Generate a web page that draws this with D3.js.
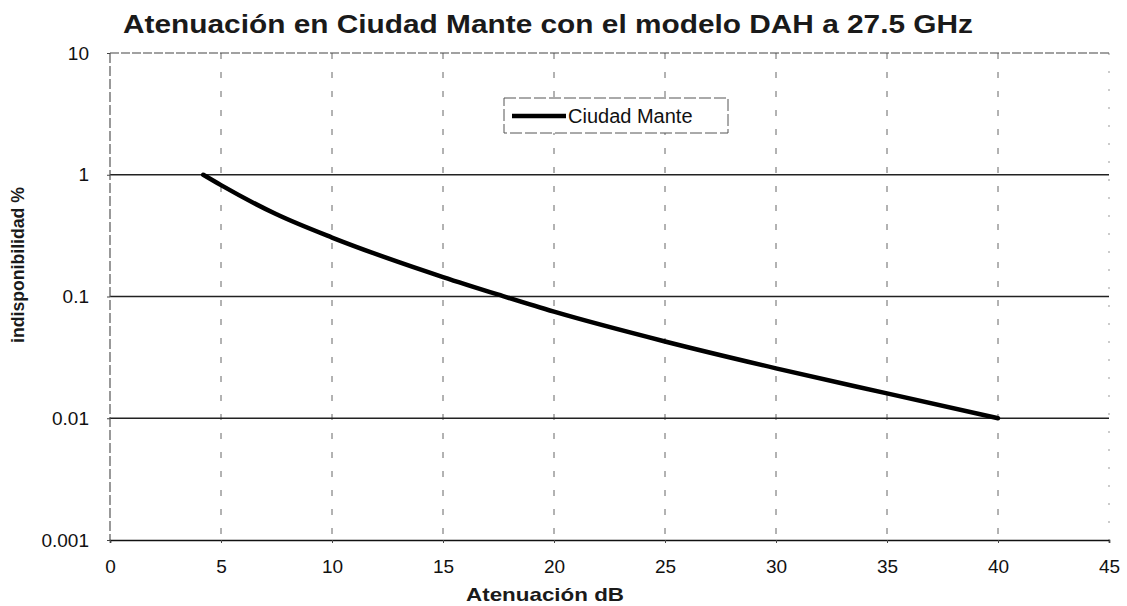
<!DOCTYPE html>
<html>
<head>
<meta charset="utf-8">
<script src="https://cdn.jsdelivr.net/npm/d3@7"></script>
<style>
  body { margin: 0; background: #fff; }
  svg { display: block; font-family: "Liberation Sans", Arial, sans-serif; }
</style>
</head>
<body>
<svg id="chart" width="1127" height="606"></svg>
<script>
// data
const attenDb   = [4.2, 5, 7.5, 10, 12.5, 15, 17.5, 20, 25, 30, 35, 40];
const unavail   = [1, 0.822, 0.473, 0.305, 0.2065, 0.1445, 0.1035, 0.075, 0.0427, 0.0257, 0.016, 0.01];
const xTicks    = [0, 5, 10, 15, 20, 25, 30, 35, 40, 45];
const yTicks    = [0.001, 0.01, 0.1, 1, 10];
const yLabels   = ["0.001", "0.01", "0.1", "1", "10"];
const seriesName = "Ciudad Mante";

const svg = d3.select("#chart");
const margin = { top: 53, left: 110, right: 18, bottom: 66 };
const width = 1127 - margin.left - margin.right,
      height = 606 - margin.top - margin.bottom;

const g = svg.append("g").attr("transform", `translate(${margin.left},${margin.top})`);

const x = d3.scaleLinear().domain([0, 45]).range([0, width]);
const y = d3.scaleLog().domain([0.001, 10]).range([height, 0]);

// title (scanned original is a bit stretched, so fit its width)
svg.append("text")
  .attr("x", 548).attr("y", 33)
  .attr("text-anchor", "middle")
  .attr("font-size", 25).attr("font-weight", "bold")
  .attr("fill", "#1a1a1a")
  .attr("textLength", 850).attr("lengthAdjust", "spacingAndGlyphs")
  .text("Atenuación en Ciudad Mante con el modelo DAH a 27.5 GHz");

// vertical dashed grid
g.append("g").selectAll("line")
  .data(xTicks.filter(d => d > 0))
  .join("line")
  .attr("x1", d => x(d)).attr("x2", d => x(d))
  .attr("y1", 0).attr("y2", height)
  .attr("stroke", d => d === 45 ? "#999" : "#666")
  .attr("stroke-width", 1)
  .attr("stroke-dasharray", d => d === 45 ? "2,16" : "6,13");

// horizontal grid (solid)
g.append("g").selectAll("line")
  .data([0.01, 0.1, 1])
  .join("line")
  .attr("x1", 0).attr("x2", width)
  .attr("y1", d => y(d)).attr("y2", d => y(d))
  .attr("stroke", "#222").attr("stroke-width", 1.4);

// top border at 10
g.append("line")
  .attr("x1", 0).attr("x2", width)
  .attr("y1", y(10)).attr("y2", y(10))
  .attr("stroke", "#444").attr("stroke-width", 1.2)
  .attr("stroke-dasharray", "9,2");

// left axis line
g.append("line")
  .attr("x1", 0).attr("x2", 0)
  .attr("y1", 0).attr("y2", height)
  .attr("stroke", "#555").attr("stroke-width", 1.2)
  .attr("stroke-dasharray", "10,3");

// bottom axis
const xAxis = g.append("g")
  .attr("transform", `translate(0,${height})`)
  .call(d3.axisBottom(x).tickValues(xTicks).tickSize(3).tickPadding(17).tickFormat(d3.format("d")));
xAxis.select(".domain").attr("stroke", "#111").attr("stroke-width", 1.6);
xAxis.selectAll(".tick line").attr("stroke", "#444");
xAxis.selectAll("text").attr("font-size", 19).attr("fill", "#111")
  .attr("font-family", "Liberation Sans, Arial, sans-serif");

// left tick labels
const yAxis = g.append("g")
  .call(d3.axisLeft(y).tickValues(yTicks).tickSize(3).tickPadding(18)
    .tickFormat((d, i) => yLabels[i]));
yAxis.select(".domain").remove();
yAxis.selectAll(".tick line").attr("stroke", "#444");
yAxis.selectAll("text").attr("font-size", 19).attr("fill", "#111")
  .attr("font-family", "Liberation Sans, Arial, sans-serif");

// axis titles
svg.append("text")
  .attr("x", 545).attr("y", 601)
  .attr("text-anchor", "middle")
  .attr("font-size", 19).attr("font-weight", "bold").attr("fill", "#1a1a1a")
  .attr("textLength", 158).attr("lengthAdjust", "spacingAndGlyphs")
  .text("Atenuación dB");

svg.append("text")
  .attr("transform", "translate(24,265) rotate(-90)")
  .attr("text-anchor", "middle")
  .attr("font-size", 18).attr("font-weight", "bold").attr("fill", "#1a1a1a")
  .attr("textLength", 156).attr("lengthAdjust", "spacingAndGlyphs")
  .text("indisponibilidad %");

// series
const pts = attenDb.map((d, i) => ({ x: d, y: unavail[i] }));
g.append("path")
  .datum(pts)
  .attr("fill", "none")
  .attr("stroke", "#000")
  .attr("stroke-width", 4.5)
  .attr("stroke-linecap", "round")
  .attr("d", d3.line().x(d => x(d.x)).y(d => y(d.y)).curve(d3.curveMonotoneX));

// legend
const lg = svg.append("g").attr("transform", "translate(504,98)");
lg.append("rect")
  .attr("width", 224).attr("height", 35)
  .attr("fill", "#fff")
  .attr("stroke", "#555").attr("stroke-width", 1)
  .attr("stroke-dasharray", "12,3");
lg.append("line")
  .attr("x1", 8).attr("x2", 62).attr("y1", 18).attr("y2", 18)
  .attr("stroke", "#000").attr("stroke-width", 4.5);
lg.append("text")
  .attr("x", 64).attr("y", 25)
  .attr("font-size", 20).attr("fill", "#111")
  .text(seriesName);
</script>
</body>
</html>
